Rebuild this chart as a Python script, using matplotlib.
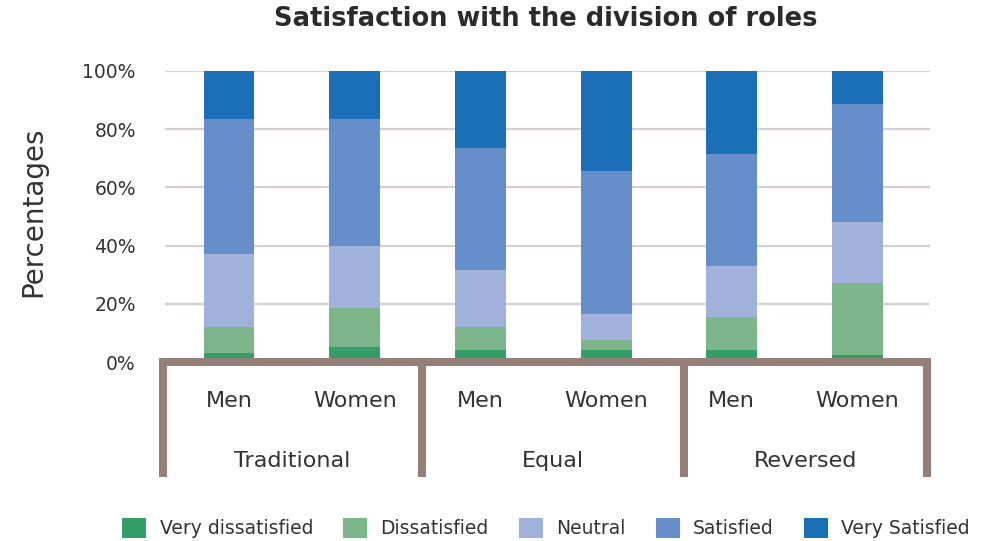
import matplotlib
matplotlib.use("Agg")
import matplotlib.pyplot as plt
import numpy as np

# Survey results (% of respondents), one value per bar
bar_labels = ["Men", "Women", "Men", "Women", "Men", "Women"]
groups = ["Traditional", "Equal", "Reversed"]
categories = ["Very dissatisfied", "Dissatisfied", "Neutral", "Satisfied", "Very Satisfied"]

very_dissatisfied = [3.0, 5.0, 4.0, 4.0, 4.0, 2.5]
dissatisfied = [9.0, 13.5, 8.0, 3.5, 11.5, 24.5]
neutral = [25.0, 21.5, 19.5, 9.0, 17.5, 21.0]
satisfied = [46.5, 43.5, 42.0, 49.0, 38.5, 40.5]
very_satisfied = [16.5, 16.5, 26.5, 34.5, 28.5, 11.5]

y_ticks = [0, 20, 40, 60, 80, 100]
y_tick_labels = ["0%", "20%", "40%", "60%", "80%", "100%"]

colors = ["#349E68", "#7CB58A", "#A0B2DB", "#658ECA", "#1B6FB6"]
bracket_color = "#958079"
text_color = "#333333"

plt.rcParams["font.family"] = ["DejaVu Sans"]

fig = plt.figure(figsize=(9.97, 5.41), dpi=100)
ax = fig.add_axes([165 / 997, (541 - 362) / 541, 765 / 997, 291 / 541])

x = np.arange(len(bar_labels))
series = [very_dissatisfied, dissatisfied, neutral, satisfied, very_satisfied]
bottom = np.zeros(len(x))
handles = []
for vals, col, name in zip(series, colors, categories):
    h = ax.bar(x, vals, width=0.405, bottom=bottom, color=col, label=name,
               zorder=3, linewidth=0)
    handles.append(h)
    bottom += np.array(vals)

ax.set_xlim(-0.509, 5.577)
ax.set_ylim(0, 100)
ax.set_yticks(y_ticks)
ax.set_yticklabels(y_tick_labels, fontsize=13.5, color=text_color)
ax.tick_params(axis="y", length=0, pad=21)
ax.tick_params(axis="x", length=0, labelbottom=False)
ax.grid(axis="y", color="#D8D0CE", linewidth=1.6, zorder=0)
for s in ax.spines.values():
    s.set_visible(False)

ax.set_ylabel("Percentages", fontsize=20, color=text_color, va="center")
ax.yaxis.set_label_coords(-0.1725, 0.515)

# Category bracket under the bars
tr = ax.get_xaxis_transform()
sep_x = [-0.525, 1.535, 3.62, 5.557]
bottom_y = -0.394
lw = 5.8
ax.plot([sep_x[0], sep_x[-1]], [0, 0], transform=tr, color=bracket_color,
        lw=lw, clip_on=False, solid_capstyle="projecting", zorder=5)
for sx in sep_x:
    ax.plot([sx, sx], [0, bottom_y], transform=tr, color=bracket_color,
            lw=lw, clip_on=False, solid_capstyle="butt", zorder=5)

# Bar and group labels
for xi, lab in zip(x, bar_labels):
    ax.text(xi, -0.135, lab, transform=tr, ha="center", va="center",
            fontsize=16, color=text_color)
group_centers = [(sep_x[i] + sep_x[i + 1]) / 2 for i in range(3)]
for gc, g in zip(group_centers, groups):
    ax.text(gc, -0.34, g, transform=tr, ha="center", va="center",
            fontsize=16, color=text_color)

fig.text(546 / 997, 1 - 19 / 541, "Satisfaction with the division of roles",
         ha="center", va="center", fontsize=18.5, fontweight="bold", color="#2b2b2b")

fig.legend(handles=handles, labels=categories, loc="center", ncol=5,
           bbox_to_anchor=(546 / 997, 1 - 528 / 541), frameon=False,
           fontsize=13.5, handlelength=1.3, handleheight=1.3, handletextpad=0.7,
           columnspacing=1.6, labelcolor=text_color)

fig.savefig("out.png", dpi=100, facecolor="white")
